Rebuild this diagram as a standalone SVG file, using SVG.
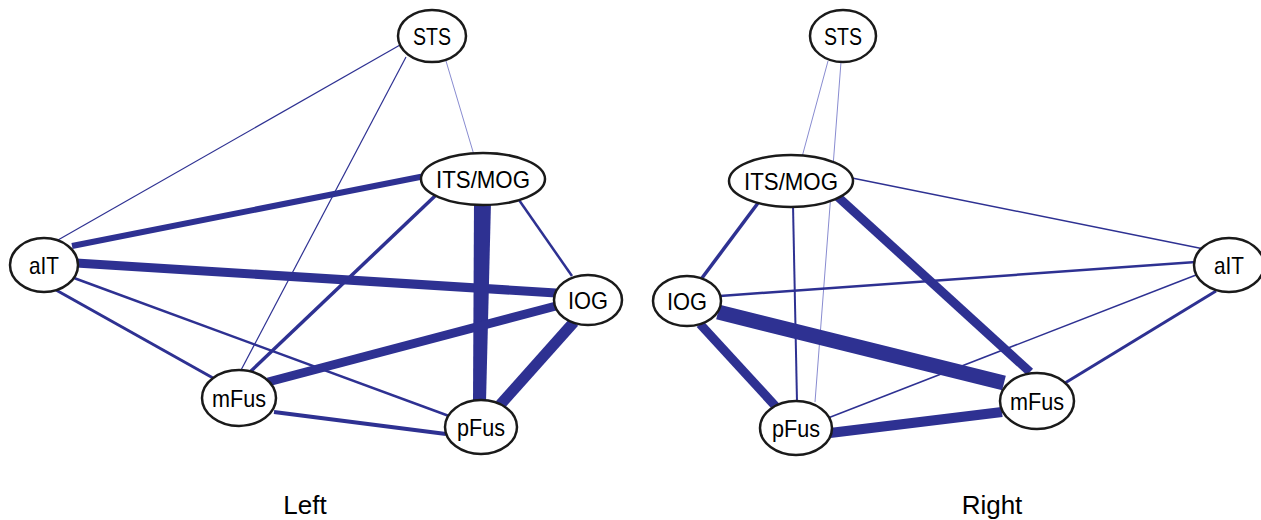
<svg xmlns="http://www.w3.org/2000/svg" width="1261" height="520" viewBox="0 0 1261 520">
<style>
.e{stroke:#2E3192;stroke-linecap:butt;fill:none}
.f{fill:#2E3192}
.vt{stroke:#6A6DC4;stroke-width:0.8;fill:none}
.n ellipse{fill:#fff;stroke:#1a1a1a;stroke-width:2.5}
.n text{font-family:"Liberation Sans",Arial,sans-serif;font-size:24px;text-anchor:middle;fill:#000}
.cap{font-family:"Liberation Sans",Arial,sans-serif;font-size:26px;text-anchor:middle;fill:#000}
</style>
<rect width="1261" height="520" fill="#fff"/>
<g id="connectors">
<!-- Left -->
<line class="e" x1="400" y1="45" x2="58" y2="240" stroke-width="1.2"/>
<line class="e" x1="406" y1="57" x2="240" y2="372" stroke-width="1.2"/>
<line class="vt" x1="446" y1="61" x2="474" y2="155"/>
<line class="e" x1="72" y1="246" x2="425" y2="176" stroke-width="6"/>
<line class="e" x1="76" y1="263" x2="556" y2="293" stroke-width="9"/>
<line class="e" x1="56" y1="290" x2="213" y2="378" stroke-width="3"/>
<line class="e" x1="74" y1="278" x2="449" y2="416" stroke-width="2.5"/>
<line class="e" x1="435" y1="196" x2="250" y2="372" stroke-width="3.5"/>
<polygon class="f" points="474,202 491,202 486,402 473,402"/>
<line class="e" x1="519" y1="200" x2="572" y2="276" stroke-width="2.5"/>
<line class="e" x1="556" y1="306" x2="268" y2="382" stroke-width="9"/>
<line class="e" x1="574" y1="322" x2="500" y2="405" stroke-width="11"/>
<line class="e" x1="274" y1="412" x2="446" y2="434" stroke-width="4"/>
<!-- Right -->
<line class="vt" x1="828" y1="61" x2="802" y2="157"/>
<line class="vt" x1="841" y1="62" x2="815" y2="402"/>
<line class="e" x1="852" y1="178" x2="1204" y2="249" stroke-width="1.5"/>
<line class="e" x1="758" y1="203" x2="702" y2="278" stroke-width="3.5"/>
<line class="e" x1="793" y1="205" x2="797" y2="402" stroke-width="2"/>
<line class="e" x1="838" y1="197" x2="1030" y2="372" stroke-width="9"/>
<line class="e" x1="720" y1="296" x2="1196" y2="262" stroke-width="2.5"/>
<line class="e" x1="718" y1="312" x2="1004" y2="383" stroke-width="15"/>
<line class="e" x1="700" y1="324" x2="779" y2="410" stroke-width="9"/>
<line class="e" x1="1196" y1="275" x2="828" y2="418" stroke-width="1.5"/>
<line class="e" x1="1216" y1="291" x2="1065" y2="383" stroke-width="3"/>
<line class="e" x1="830" y1="433" x2="1002" y2="412" stroke-width="10"/>
</g>
<g id="L-STS" class="n"><ellipse cx="432" cy="36" rx="34" ry="26"/><text x="432" y="44.5" textLength="38" lengthAdjust="spacingAndGlyphs">STS</text></g>
<g id="L-ITSMOG" class="n"><ellipse cx="483" cy="179" rx="62" ry="26"/><text x="483" y="187.5" textLength="94" lengthAdjust="spacingAndGlyphs">ITS/MOG</text></g>
<g id="L-aIT" class="n"><ellipse cx="44" cy="265" rx="34" ry="27"/><text x="44" y="273.5" textLength="30" lengthAdjust="spacingAndGlyphs">aIT</text></g>
<g id="L-IOG" class="n"><ellipse cx="588" cy="300" rx="34" ry="25"/><text x="588" y="308.5" textLength="40" lengthAdjust="spacingAndGlyphs">IOG</text></g>
<g id="L-mFus" class="n"><ellipse cx="239" cy="398" rx="37" ry="28"/><text x="239" y="406.5" textLength="54" lengthAdjust="spacingAndGlyphs">mFus</text></g>
<g id="L-pFus" class="n"><ellipse cx="481" cy="427" rx="36" ry="27"/><text x="481" y="435.5" textLength="48" lengthAdjust="spacingAndGlyphs">pFus</text></g>
<g id="R-STS" class="n"><ellipse cx="843" cy="36" rx="33" ry="26"/><text x="843" y="44.5" textLength="38" lengthAdjust="spacingAndGlyphs">STS</text></g>
<g id="R-ITSMOG" class="n"><ellipse cx="791" cy="181" rx="62" ry="26"/><text x="791" y="189.5" textLength="94" lengthAdjust="spacingAndGlyphs">ITS/MOG</text></g>
<g id="R-aIT" class="n"><ellipse cx="1229" cy="265" rx="35" ry="27"/><text x="1229" y="273.5" textLength="30" lengthAdjust="spacingAndGlyphs">aIT</text></g>
<g id="R-IOG" class="n"><ellipse cx="687" cy="301" rx="34" ry="25"/><text x="687" y="309.5" textLength="40" lengthAdjust="spacingAndGlyphs">IOG</text></g>
<g id="R-mFus" class="n"><ellipse cx="1037" cy="401" rx="37" ry="28"/><text x="1037" y="409.5" textLength="54" lengthAdjust="spacingAndGlyphs">mFus</text></g>
<g id="R-pFus" class="n"><ellipse cx="796" cy="428" rx="36" ry="27"/><text x="796" y="436.5" textLength="48" lengthAdjust="spacingAndGlyphs">pFus</text></g>
<text class="cap" x="305" y="514">Left</text>
<text class="cap" x="992" y="514">Right</text>
</svg>
